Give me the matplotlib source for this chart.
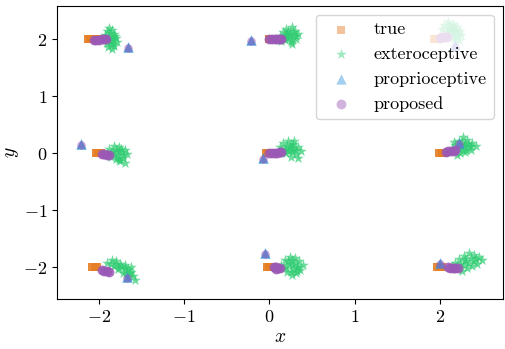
import matplotlib; matplotlib.use("Agg")
import matplotlib.pyplot as plt
import numpy as np

plt.rcParams.update({"font.family": "serif", "font.serif": ["cmr10"],
                     "mathtext.fontset": "cm", "axes.formatter.use_mathtext": True})

ORANGE = "#E67E22"; GREEN = "#2ECC71"; BLUE = "#3498DB"; PURPLE = "#9B59B6"

# ground truth positions (square markers)
true_x = [-2.13, -2.10, -2.07, -2.04, -2.01,  -0.01, 0.00,  1.93, 1.96, 1.99,
          -2.04, -2.01, -1.98,  -0.04, -0.02, 0.00,  1.99, 2.02, 2.05,
          -2.08, -2.05, -2.02,  -0.03, 0.00, 0.03,  1.97, 2.00, 2.03]
true_y = [2.0, 2.0, 2.0, 2.0, 2.0,  2.0, 2.0,  2.0, 2.0, 2.0,
          0.0, 0.0, 0.0,  0.0, 0.0, 0.0,  0.0, 0.0, 0.0,
          -2.0, -2.0, -2.0,  -2.0, -2.0, -2.0,  -2.0, -2.0, -2.0]

# exteroceptive estimates (star clouds), two lines per landmark
ext_x = [-1.90, -1.85, -1.82, -1.93, -1.88, -1.80, -1.84, -1.91, -1.86, -1.82, -1.89, -1.85, -1.93, -1.79,
         -1.87, -1.83, -1.89, -1.86, -1.84, -1.91, -1.81, -1.88,
         0.12, 0.16, 0.20, 0.26, 0.30, 0.34, 0.28, 0.22, 0.18, 0.25, 0.31, 0.14, 0.21, 0.27,
         0.19, 0.24, 0.28, 0.17, 0.22, 0.26, 0.31, 0.20,
         2.05, 2.10, 2.15, 2.20, 2.24, 2.18, 2.12, 2.08, 2.14, 2.20, 2.16, 2.22, 2.03, 2.25,
         2.10, 2.14, 2.18, 2.12, 2.16, 2.20, 2.08, 2.15,
         -1.88, -1.82, -1.76, -1.70, -1.67, -1.72, -1.78, -1.84, -1.86, -1.75, -1.70, -1.80, -1.73, -1.90,
         -1.80, -1.76, -1.72, -1.82, -1.78, -1.74, -1.86, -1.77,
         0.12, 0.16, 0.22, 0.28, 0.34, 0.37, 0.31, 0.25, 0.19, 0.26, 0.33, 0.14, 0.21, 0.29,
         0.20, 0.24, 0.28, 0.22, 0.27, 0.31, 0.17, 0.25,
         2.14, 2.18, 2.22, 2.27, 2.32, 2.38, 2.42, 2.36, 2.30, 2.24, 2.20, 2.28, 2.34, 2.17,
         2.25, 2.29, 2.33, 2.22, 2.27, 2.31, 2.37, 2.26,
         -1.90, -1.85, -1.80, -1.75, -1.70, -1.82, -1.76, -1.68, -1.64, -1.60, -1.58, -1.66, -1.72, -1.62,
         -1.86, -1.80, -1.74, -1.78, -1.70, -1.66, -1.62, -1.68,
         0.14, 0.18, 0.24, 0.30, 0.35, 0.39, 0.36, 0.31, 0.26, 0.21, 0.17, 0.27, 0.32, 0.23,
         0.22, 0.26, 0.30, 0.34, 0.20, 0.28, 0.25, 0.32,
         2.14, 2.18, 2.22, 2.28, 2.34, 2.40, 2.46, 2.49, 2.44, 2.38, 2.32, 2.26, 2.20, 2.30,
         2.24, 2.30, 2.36, 2.42, 2.28, 2.34, 2.40, 2.22]
ext_y = [2.15, 2.17, 2.10, 2.08, 2.05, 2.02, 1.98, 1.97, 1.92, 1.88, 1.86, 1.82, 2.00, 1.95,
         2.11, 2.04, 2.01, 1.96, 1.91, 1.93, 2.06, 2.20,
         2.05, 2.12, 2.18, 2.22, 2.15, 2.10, 2.06, 2.02, 1.98, 1.95, 2.00, 1.96, 2.10, 1.92,
         2.07, 2.10, 2.12, 2.02, 2.14, 2.00, 2.06, 2.04,
         2.25, 2.30, 2.27, 2.22, 2.15, 2.12, 2.18, 2.12, 2.08, 2.05, 2.00, 1.98, 2.18, 2.08,
         2.22, 2.20, 2.17, 2.14, 2.12, 2.10, 2.05, 2.24,
         0.08, 0.12, 0.10, 0.06, -0.02, -0.08, -0.04, 0.02, -0.06, -0.14, -0.18, -0.10, 0.02, -0.01,
         0.05, 0.04, -0.04, -0.02, -0.08, 0.08, 0.02, -0.12,
         0.10, 0.18, 0.21, 0.16, 0.10, 0.03, -0.02, -0.06, 0.00, 0.06, -0.09, 0.02, 0.12, 0.22,
         0.07, 0.10, 0.09, 0.04, 0.02, 0.05, 0.06, 0.14,
         0.06, 0.14, 0.22, 0.28, 0.24, 0.18, 0.12, 0.06, 0.02, 0.00, -0.03, 0.12, 0.10, 0.20,
         0.10, 0.16, 0.17, 0.08, 0.06, 0.05, 0.12, 0.20,
         -1.92, -1.88, -1.90, -1.94, -1.96, -1.98, -2.02, -2.05, -2.10, -2.15, -2.22, -2.18, -2.10, -2.00,
         -1.95, -1.94, -1.98, -2.04, -2.02, -2.04, -2.08, -2.12,
         -1.97, -1.88, -1.82, -1.84, -1.90, -1.97, -2.05, -2.10, -2.14, -2.08, -2.02, -1.96, -1.99, -1.94,
         -1.90, -1.88, -1.92, -2.00, -2.00, -2.04, -2.08, -2.06,
         -1.98, -1.92, -1.86, -1.80, -1.76, -1.78, -1.82, -1.88, -1.94, -1.98, -2.02, -2.06, -2.04, -1.90,
         -1.94, -1.86, -1.84, -1.86, -1.96, -1.92, -1.90, -2.00]

# proprioceptive estimates (triangles)
prop_x = [-1.66, -0.22, 2.18, -2.21, -0.07, 2.22, -1.67, -0.05, 2.00]
prop_y = [1.87, 1.98, 1.89, 0.16, -0.08, 0.18, -2.17, -1.75, -1.92]

# proposed estimates (circles)
prop2_x = [-2.06, -2.03, -2.00, -1.97, -1.94, -1.92,
           0.00, 0.03, 0.06, 0.09, 0.12, 0.14,
           2.00, 2.03, 2.06, 2.08,
           -1.97, -1.94, -1.91, -1.88,
           0.00, 0.03, 0.06, 0.09, 0.12, 0.14,
           2.07, 2.10, 2.13, 2.16, 2.18,
           -1.97, -1.94, -1.91, -1.88,
           0.05, 0.08, 0.10, 0.12, 0.08,
           2.09, 2.12, 2.15, 2.18, 2.21]
prop2_y = [1.98, 1.98, 1.99, 2.00, 2.00, 2.01,
           2.00, 2.00, 2.00, 2.00, 2.00, 2.00,
           2.02, 2.03, 2.03, 2.03,
           -0.01, -0.02, -0.03, -0.04,
           0.00, 0.00, 0.01, 0.01, 0.02, 0.02,
           0.02, 0.03, 0.04, 0.04, 0.05,
           -2.05, -2.06, -2.07, -2.08,
           -2.00, -1.99, -2.01, -2.02, -2.03,
           -2.00, -2.01, -2.02, -2.02, -2.02]
# proposed estimates at start, where they sit on the proprioceptive ones
prop2_start_x = [-1.66, -0.22, 2.18, -2.21, -0.07, 2.22, -1.67, -0.05, 2.00]
prop2_start_y = [1.85, 1.96, 1.87, 0.14, -0.10, 0.16, -2.19, -1.77, -1.94]

fig = plt.figure(figsize=(5.06, 3.49), dpi=100)
ax = fig.add_axes([0.113, 0.143, 0.881, 0.841])
ax.scatter(true_x, true_y, marker="s", s=36, color=ORANGE, alpha=0.9, lw=0, label="true")
ax.scatter(ext_x, ext_y, marker="*", s=65, color=GREEN, alpha=0.7, lw=0, label="exteroceptive")
ax.scatter(prop_x, prop_y, marker="^", s=55, color=BLUE, alpha=0.9, lw=0, label="proprioceptive")
ax.scatter(prop2_x, prop2_y, marker="o", s=50, color=PURPLE, alpha=0.85, lw=0, label="proposed")
ax.scatter(prop2_start_x, prop2_start_y, marker="o", s=38, color=PURPLE, alpha=0.5, lw=0)
ax.set_xlim(-2.49, 2.74); ax.set_ylim(-2.56, 2.59)
ax.set_xticks([-2, -1, 0, 1, 2]); ax.set_yticks([-2, -1, 0, 1, 2])
ax.tick_params(labelsize=13)
ax.set_xlabel("$x$", fontsize=14, labelpad=2)
ax.set_ylabel("$y$", fontsize=14, labelpad=2)
leg = ax.legend(loc="upper right", fontsize=13, scatterpoints=1)
for h in leg.legend_handles:
    h.set_alpha(0.45)
fig.savefig("out.png", dpi=100)
